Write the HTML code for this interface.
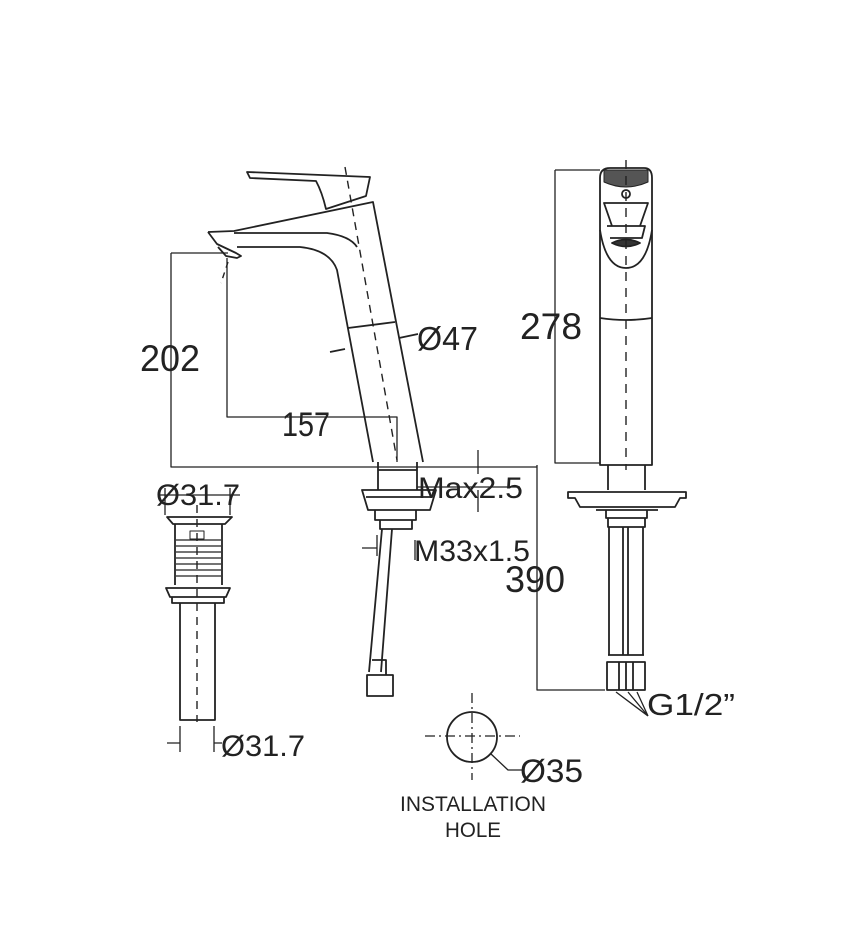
<!DOCTYPE html>
<html><head><meta charset="utf-8"><style>
html,body{margin:0;padding:0;background:#fff;}
svg{display:block;}
text{font-family:"Liberation Sans",sans-serif;fill:#222;}
</style></head><body>
<svg width="850" height="946" viewBox="0 0 850 946" xmlns="http://www.w3.org/2000/svg">
<g fill="none" stroke="#222" stroke-width="1.8" stroke-linejoin="round">
<path d="M247,172 L370,177 L366,196 L326,209 Q322,192 316,181 L250,178 Z"/>
<path d="M208,232 L234,231 L373,202 L423,462"/>
<path d="M234,233 L327,233 Q350,236 357,247"/>
<path d="M208,232 L217,244 L236,253 L241,256 L237,258 L226,256 L218,247"/>
<path d="M237,247 L300,247 Q330,250 337,270 L373,462"/>
<path d="M348,328 L395,322"/>
<path d="M330,352 L345,349"/>
<path d="M399,338 L418,334"/>
<path d="M345,167 L397,460" stroke-dasharray="8,6" stroke-width="1.4"/>
<path d="M228,262 L221,283" stroke-dasharray="6,5" stroke-width="1.4"/>
<path d="M171,253 L228,253 M171,253 L171,467 L537,467 M227,258 L227,417 L397,417 L397,462" stroke-width="1.3"/>
<path d="M378,462 L378,490 M417,462 L417,490 M378,470 L417,470"/>
<path d="M362,490 L436,490 L430,510 L368,510 Z M366,497 L432,497"/>
<path d="M375,510 L375,520 L416,520 L416,510 M380,520 L380,529 L412,529 L412,520"/>
<path d="M382,529 L369,672 M392,529 L381,672"/>
<path d="M367,675 L393,675 L393,696 L367,696 Z M372,660 L386,660 L386,675 L372,675"/>
<path d="M417,487 L520,487 M478,450 L478,474 M478,490 L478,512" stroke-width="1.3"/>
<path d="M377,535 L377,556 M362,548 L377,548 M415,540 L415,560" stroke-width="1.3"/>
<path d="M158,495 L240,495 M165,488 L165,515 M230,488 L230,515" stroke-width="1.3"/>
<path d="M167,517 L232,517 L225,524 L173,524 Z"/>
<path d="M175,524 L175,585 M222,524 L222,585"/>
<path d="M176,540 L221,540 M176,546 L221,546 M176,552 L221,552 M176,558 L221,558 M176,564 L221,564 M176,570 L221,570 M176,576 L221,576" stroke-width="1.2"/>
<path d="M190,531 L204,531 L204,539 L190,539 Z" stroke-width="1"/>
<path d="M166,588 L230,588 L226,597 L170,597 Z M172,597 L172,603 L224,603 L224,597"/>
<path d="M180,603 L180,720 L215,720 L215,603"/>
<path d="M197,505 L197,722" stroke-dasharray="8,6" stroke-width="1.4"/>
<path d="M180,726 L180,752 M214,726 L214,752 M167,743 L180,743 M214,743 L222,743" stroke-width="1.3"/>
<circle cx="472" cy="737" r="25"/>
<path d="M425,736 L520,736 M472,693 L472,780" stroke-dasharray="10,4,2,4" stroke-width="1.3"/>
<path d="M491,754 L508,770 L522,770" stroke-width="1.3"/>
<path d="M600,465 L600,178 Q600,168 610,168 L644,168 Q652,168 652,178 L652,465 Z"/>
<path d="M604,170 L648,170 L648,182 Q626,192 604,182 Z" fill="#555" stroke-width="1"/>
<circle cx="626" cy="194" r="4"/>
<path d="M604,203 L648,203 L640,226 L612,226 Z M607,226 L645,226 L642,238 L610,238"/>
<path d="M612,243 Q626,236 640,243 Q626,250 612,243 Z" fill="#333"/>
<path d="M600,230 Q606,268 626,268 Q646,268 652,230"/>
<path d="M600,318 Q626,322 652,318"/>
<path d="M626,160 L626,470" stroke-dasharray="9,7" stroke-width="1.4"/>
<path d="M608,465 L608,490 M645,465 L645,490"/>
<path d="M568,492 L686,492 L686,498 L680,498 L675,507 L580,507 L575,498 L568,498 Z"/>
<path d="M596,510 L658,510 M606,510 L606,518 L647,518 L647,510 M608,518 L608,527 L645,527 L645,518"/>
<path d="M609,527 L609,655 M623,527 L623,655 M628,527 L628,655 M643,527 L643,655"/>
<path d="M608,655 L644,655 M607,662 L645,662 L645,690 L607,690 Z M619,662 L619,690 M626,662 L626,690 M633,662 L633,690"/>
<path d="M555,170 L600,170 M555,170 L555,463 L600,463 M537,465 L537,690 L605,690" stroke-width="1.3"/>
<path d="M628,692 L648,716 M637,692 L648,716 M616,692 L648,716" stroke-width="1.3"/>
</g>
<text x="140" y="371" font-size="37" textLength="60" lengthAdjust="spacingAndGlyphs">202</text>
<text x="282" y="436" font-size="34" textLength="48" lengthAdjust="spacingAndGlyphs">157</text>
<text x="417" y="350" font-size="33" textLength="61" lengthAdjust="spacingAndGlyphs">Ø47</text>
<text x="418" y="498" font-size="30" textLength="105" lengthAdjust="spacingAndGlyphs">Max2.5</text>
<text x="414" y="561" font-size="30" textLength="116" lengthAdjust="spacingAndGlyphs">M33x1.5</text>
<text x="156" y="505" font-size="30" textLength="84" lengthAdjust="spacingAndGlyphs">Ø31.7</text>
<text x="221" y="756" font-size="30" textLength="84" lengthAdjust="spacingAndGlyphs">Ø31.7</text>
<text x="520" y="782" font-size="32" textLength="63" lengthAdjust="spacingAndGlyphs">Ø35</text>
<text x="400" y="811" font-size="21" textLength="146" lengthAdjust="spacingAndGlyphs">INSTALLATION</text>
<text x="445" y="837" font-size="21" textLength="56" lengthAdjust="spacingAndGlyphs">HOLE</text>
<text x="520" y="339" font-size="37" textLength="62" lengthAdjust="spacingAndGlyphs">278</text>
<text x="505" y="592" font-size="37" textLength="60" lengthAdjust="spacingAndGlyphs">390</text>
<text x="647" y="715" font-size="31" textLength="88" lengthAdjust="spacingAndGlyphs">G1/2”</text>
</svg>
</body></html>
